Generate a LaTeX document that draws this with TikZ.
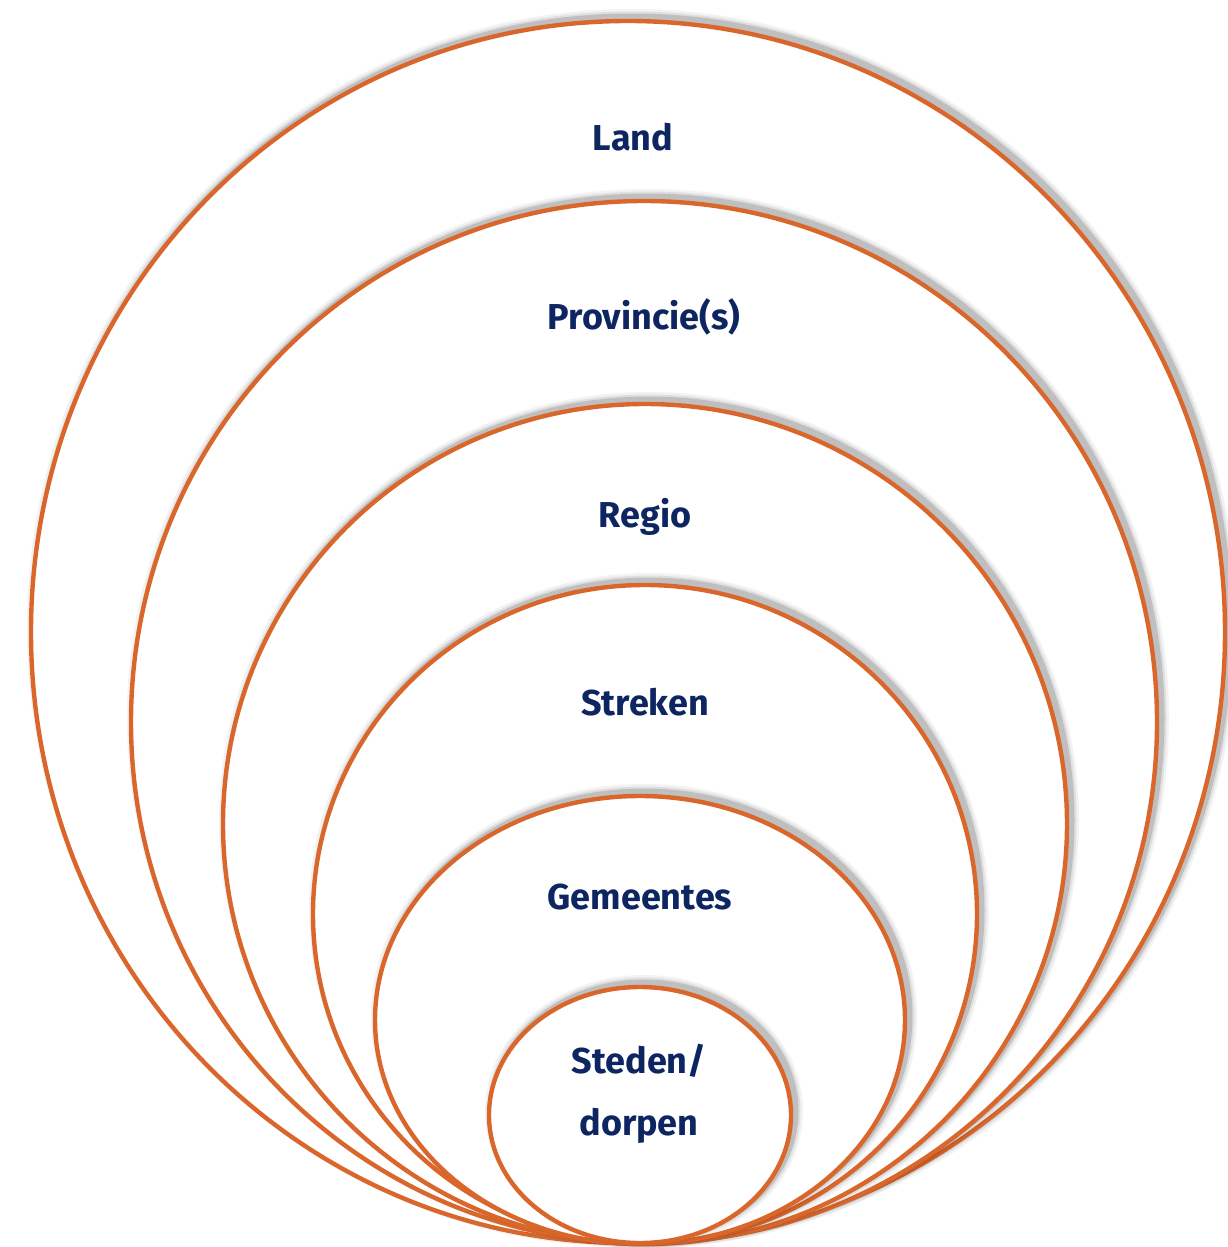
\documentclass[tikz,border=0pt]{standalone}
\usepackage{fontspec}
\setmainfont{Fira Sans}
\definecolor{ring}{HTML}{D9672C}
\definecolor{navy}{HTML}{0D2561}
\tikzset{
  x=1pt, y=-1pt,
  ringshape/.style={draw=ring, line width=4.4pt, fill=white},
  shadowA/.style={draw=black, draw opacity=0.05, line width=16pt, fill=none},
  shadowB/.style={draw=black, draw opacity=0.08, line width=11pt, fill=none},
  shadowC/.style={draw=black, draw opacity=0.14, line width=7pt, fill=none},
  lbl/.style={text=navy, font=\fontsize{36}{62}\selectfont\bfseries, align=center}
}
\newcommand{\myring}[4]{%
  \begin{scope}[shift={(4,-4)}]
    \draw[shadowA] (#1,#2) ellipse [x radius=#3, y radius=#4];
    \draw[shadowB] (#1,#2) ellipse [x radius=#3, y radius=#4];
    \draw[shadowC] (#1,#2) ellipse [x radius=#3, y radius=#4];
  \end{scope}
  \draw[ringshape] (#1,#2) ellipse [x radius=#3, y radius=#4];
}
\begin{document}
\begin{tikzpicture}
\useasboundingbox (0,0) rectangle (1227,1247);
\fill[white] (0,0) rectangle (1227,1247);
\myring{628}{632}{597}{611}
\myring{644}{722}{513}{521}
\myring{645}{824}{422}{420}
\myring{645}{914}{332}{329}
\myring{640}{1020}{265}{224}
\myring{640}{1115}{151}{128}
\node[lbl] (land) at (633,137) {Land};
\node[lbl] (prov) at (644,317) {Provincie(s)};
\node[lbl] (regio) at (645,517) {Regio};
\node[lbl] (streken) at (645,702) {Streken};
\node[lbl] (gem) at (640,897) {Gemeentes};
\node[lbl] (steden) at (639,1094) {Steden/\\dorpen};
\end{tikzpicture}
\end{document}
